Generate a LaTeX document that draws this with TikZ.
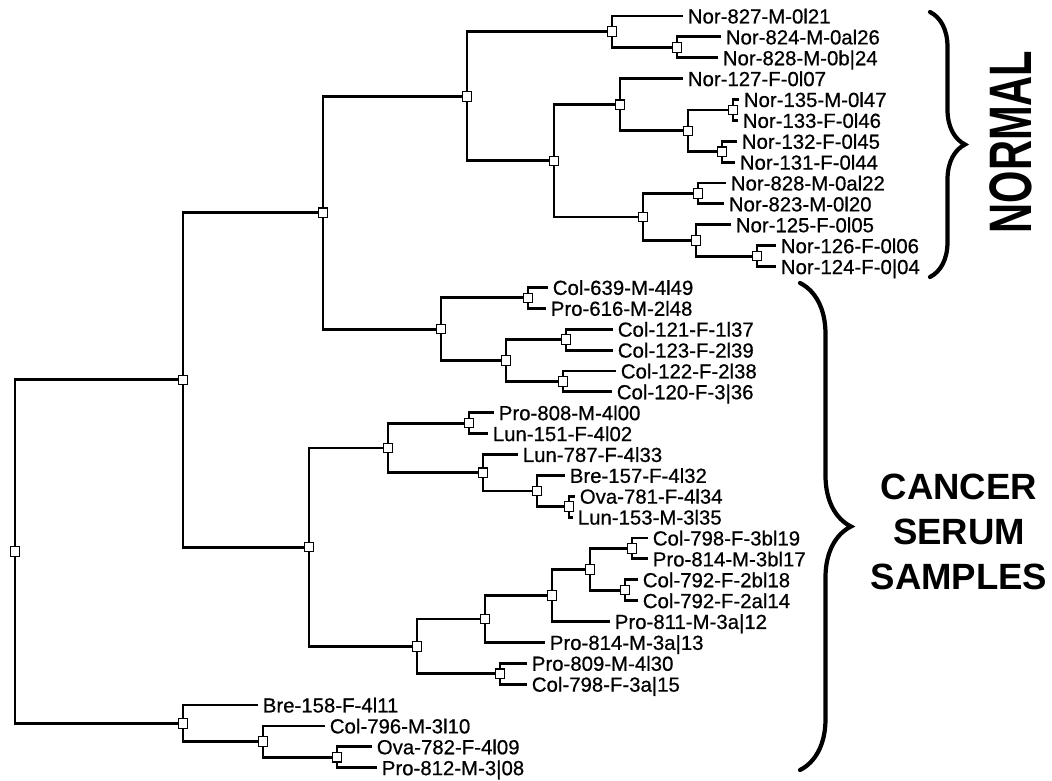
\documentclass[tikz,border=0pt]{standalone}
\usepackage{fontspec}
\setmainfont{Liberation Sans}
\newfontfamily\lblfont[FakeBold=0.6]{Liberation Sans}
\usetikzlibrary{decorations.pathreplacing}
\tikzset{
  jn/.style = {draw=black, fill=white, rectangle, line width=0.6pt, minimum size=0.19cm, inner sep=0pt},
  lf/.style = {anchor=west, inner xsep=0.09cm, inner ysep=0pt, text height=0.85em, text depth=0pt, font=\lblfont\fontsize{11.6}{13}\selectfont},
  br/.style = {line width=1.6pt, black},
  brc/.style = {decorate, line width=2.4pt, line cap=round},
  grp/.style = {font=\bfseries\fontsize{20.8}{25.4}\selectfont, align=center}
}
\begin{document}
\begin{tikzpicture}[x=0.02cm, y=-0.02cm]
            \useasboundingbox (0,0) rectangle (1052,781);
            % leaves
            \node[lf] (nor827) at (683,16) {Nor-827-M-0l21};
            \node[lf] (nor824) at (721,36.9) {Nor-824-M-0al26};
            \node[lf] (nor828b) at (718,57.8) {Nor-828-M-0b|24};
            \node[lf] (nor127) at (683,78.6) {Nor-127-F-0l07};
            \node[lf] (nor135) at (739,99.5) {Nor-135-M-0l47};
            \node[lf] (nor133) at (738,120.4) {Nor-133-F-0l46};
            \node[lf] (nor132) at (737,141.3) {Nor-132-F-0l45};
            \node[lf] (nor131) at (735,162.2) {Nor-131-F-0l44};
            \node[lf] (nor828a) at (726,183) {Nor-828-M-0al22};
            \node[lf] (nor823) at (724,203.9) {Nor-823-M-0l20};
            \node[lf] (nor125) at (731,224.8) {Nor-125-F-0l05};
            \node[lf] (nor126) at (776,245.7) {Nor-126-F-0l06};
            \node[lf] (nor124) at (776,266.6) {Nor-124-F-0|04};
            \node[lf] (col639) at (548,287.4) {Col-639-M-4l49};
            \node[lf] (pro616) at (546,308.3) {Pro-616-M-2l48};
            \node[lf] (col121) at (613,329.2) {Col-121-F-1l37};
            \node[lf] (col123) at (613,350.1) {Col-123-F-2l39};
            \node[lf] (col122) at (616,371) {Col-122-F-2l38};
            \node[lf] (col120) at (612,391.8) {Col-120-F-3|36};
            \node[lf] (pro808) at (494,412.7) {Pro-808-M-4l00};
            \node[lf] (lun151) at (488,433.6) {Lun-151-F-4l02};
            \node[lf] (lun787) at (518,454.5) {Lun-787-F-4l33};
            \node[lf] (bre157) at (565,475.4) {Bre-157-F-4l32};
            \node[lf] (ova781) at (575,496.2) {Ova-781-F-4l34};
            \node[lf] (lun153) at (573,517.1) {Lun-153-M-3l35};
            \node[lf] (col798b) at (648,538) {Col-798-F-3bl19};
            \node[lf] (pro814b) at (648,558.9) {Pro-814-M-3bl17};
            \node[lf] (col792b) at (638,579.8) {Col-792-F-2bl18};
            \node[lf] (col792a) at (638,600.6) {Col-792-F-2al14};
            \node[lf] (pro811) at (610,621.5) {Pro-811-M-3a|12};
            \node[lf] (pro814a) at (545,642.4) {Pro-814-M-3a|13};
            \node[lf] (pro809) at (527,663.3) {Pro-809-M-4l30};
            \node[lf] (col798a) at (527,684.2) {Col-798-F-3a|15};
            \node[lf] (bre158) at (258,705) {Bre-158-F-4l11};
            \node[lf] (col796) at (325,725.9) {Col-796-M-3l10};
            \node[lf] (ova782) at (372,746.8) {Ova-782-F-4l09};
            \node[lf] (pro812) at (377,767.7) {Pro-812-M-3|08};
            % junctions
            \node[jn] (jroot) at (15,551.6) {};
            \node[jn] (j3) at (183,379.9) {};
            \node[jn] (j2) at (323,212.75) {};
            \node[jn] (jnor) at (467,96.3) {};
            \node[jn] (ja1) at (612,31.7) {};
            \node[jn] (ja2) at (677,47.35) {};
            \node[jn] (jb) at (554,160.9) {};
            \node[jn] (jc) at (620,104.75) {};
            \node[jn] (jd) at (688,130.9) {};
            \node[jn] (je) at (733,110) {};
            \node[jn] (jf) at (722,151.75) {};
            \node[jn] (jg) at (643,217) {};
            \node[jn] (jh) at (698,193.45) {};
            \node[jn] (ji) at (696,240.5) {};
            \node[jn] (jj) at (757,256.15) {};
            \node[jn] (jk) at (441,329.2) {};
            \node[jn] (jp) at (528,297.85) {};
            \node[jn] (jq) at (506,360.5) {};
            \node[jn] (jr) at (566,339.65) {};
            \node[jn] (js) at (563,381.4) {};
            \node[jn] (jl) at (309,547.1) {};
            \node[jn] (jt) at (388,447.95) {};
            \node[jn] (jv) at (469,423.15) {};
            \node[jn] (jw) at (483,472.75) {};
            \node[jn] (jx) at (537,491) {};
            \node[jn] (jy) at (569,506.65) {};
            \node[jn] (ju) at (417,646.3) {};
            \node[jn] (jz) at (485,618.9) {};
            \node[jn] (jab) at (552,595.4) {};
            \node[jn] (jac) at (590,569.3) {};
            \node[jn] (jad) at (632,548.45) {};
            \node[jn] (jae) at (625,590.2) {};
            \node[jn] (jaa) at (500,673.75) {};
            \node[jn] (jm) at (183,723.3) {};
            \node[jn] (jaf) at (263,741.6) {};
            \node[jn] (jag) at (337,757.25) {};
            % branches
            \draw[br] (jroot) |- (j3) (jroot) |- (jm);
            \draw[br] (j3) |- (j2) (j3) |- (jl);
            \draw[br] (j2) |- (jnor) (j2) |- (jk);
            \draw[br] (jnor) |- (ja1) (jnor) |- (jb);
            \draw[br] (ja1) |- (nor827) (ja1) |- (ja2);
            \draw[br] (ja2) |- (nor824) (ja2) |- (nor828b);
            \draw[br] (jb) |- (jc) (jb) |- (jg);
            \draw[br] (jc) |- (nor127) (jc) |- (jd);
            \draw[br] (jd) |- (je) (jd) |- (jf);
            \draw[br] (je) |- (nor135) (je) |- (nor133);
            \draw[br] (jf) |- (nor132) (jf) |- (nor131);
            \draw[br] (jg) |- (jh) (jg) |- (ji);
            \draw[br] (jh) |- (nor828a) (jh) |- (nor823);
            \draw[br] (ji) |- (nor125) (ji) |- (jj);
            \draw[br] (jj) |- (nor126) (jj) |- (nor124);
            \draw[br] (jk) |- (jp) (jk) |- (jq);
            \draw[br] (jp) |- (col639) (jp) |- (pro616);
            \draw[br] (jq) |- (jr) (jq) |- (js);
            \draw[br] (jr) |- (col121) (jr) |- (col123);
            \draw[br] (js) |- (col122) (js) |- (col120);
            \draw[br] (jl) |- (jt) (jl) |- (ju);
            \draw[br] (jt) |- (jv) (jt) |- (jw);
            \draw[br] (jv) |- (pro808) (jv) |- (lun151);
            \draw[br] (jw) |- (lun787) (jw) |- (jx);
            \draw[br] (jx) |- (bre157) (jx) |- (jy);
            \draw[br] (jy) |- (ova781) (jy) |- (lun153);
            \draw[br] (ju) |- (jz) (ju) |- (jaa);
            \draw[br] (jz) |- (jab) (jz) |- (pro814a);
            \draw[br] (jab) |- (jac) (jab) |- (pro811);
            \draw[br] (jac) |- (jad) (jac) |- (jae);
            \draw[br] (jad) |- (col798b) (jad) |- (pro814b);
            \draw[br] (jae) |- (col792b) (jae) |- (col792a);
            \draw[br] (jaa) |- (pro809) (jaa) |- (col798a);
            \draw[br] (jm) |- (bre158) (jm) |- (jaf);
            \draw[br] (jaf) |- (col796) (jaf) |- (jag);
            \draw[br] (jag) |- (ova782) (jag) |- (pro812);
            % groups
            \coordinate (nb1) at (930,12);
            \coordinate (nb2) at (930,277);
            \coordinate (cb1) at (800,283);
            \coordinate (cb2) at (800,770);
            \draw[brc, decoration={brace, amplitude=0.7cm}] (nb1) -- (nb2);
            \draw[brc, decoration={brace, amplitude=1.02cm}] (cb1) -- (cb2);
            \node[rotate=90, font=\bfseries\fontsize{23.7}{28}\selectfont] (normal) at (1011,142) {\scalebox{1}[1.44]{NORMAL}};
            \node[grp] (cancer) at (959,532) {CANCER\\SERUM\\SAMPLES};
        \end{tikzpicture}
\end{document}
